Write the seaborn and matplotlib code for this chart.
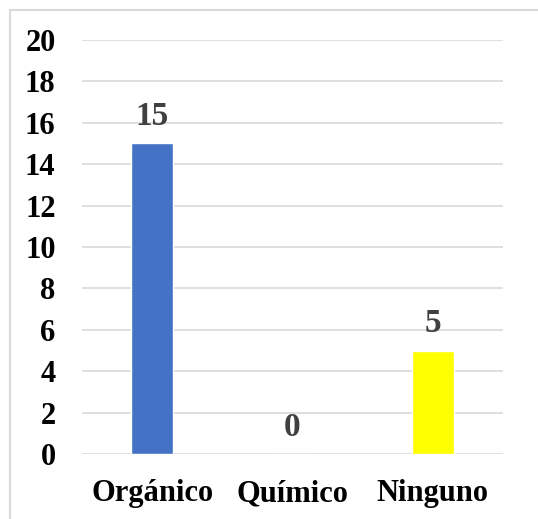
import matplotlib
matplotlib.use("Agg")
import matplotlib.pyplot as plt
from matplotlib.patches import Rectangle
import seaborn as sns
import pandas as pd

categories = ["Orgánico", "Químico", "Ninguno"]
values = [15, 0, 5]
colors = ["#4472C4", "#A5A5A5", "#FFFF00"]
y_ticks = [0, 2, 4, 6, 8, 10, 12, 14, 16, 18, 20]

sns.set_theme(style="white")
plt.rcParams["font.family"] = ["Liberation Serif", "DejaVu Serif"]
plt.rcParams["font.weight"] = "bold"

W, H = 538, 519
fig = plt.figure(figsize=(W / 100, H / 100), dpi=100)
ax = fig.add_axes([82 / W, 1 - 454 / H, (503 - 82) / W, (454 - 40) / H])

df = pd.DataFrame({"cat": categories, "val": values})
sns.barplot(data=df, x="cat", y="val", hue="cat", palette=colors,
            width=0.295, legend=False, ax=ax, saturation=1)

ax.set_ylim(0, 20)
ax.set_xlim(-0.5, 2.5)
ax.set_yticks(y_ticks)
ax.set_yticklabels([str(t) for t in y_ticks])
ax.grid(axis="y", color="#D9D9D9", linewidth=1.2)
ax.set_axisbelow(True)
for s in ax.spines.values():
    s.set_visible(False)
ax.set_xlabel("")
ax.set_ylabel("")
ax.tick_params(axis="y", length=0, pad=19, labelsize=22, labelcolor="black")
ax.tick_params(axis="x", length=0, pad=18, labelsize=22, labelcolor="black")
for lab in ax.get_xticklabels() + ax.get_yticklabels():
    lab.set_fontweight("bold")

for i, v in enumerate(values):
    ax.annotate(str(v), (i, v), xytext=(0, 8), textcoords="offset points",
                ha="center", va="bottom", fontsize=24, fontweight="bold",
                color="#404040")

# chart frame
fig.patches.append(Rectangle((10 / W, -0.1), 1.2, 1 - 10 / H + 0.1,
                             transform=fig.transFigure, fill=False,
                             edgecolor="#D9D9D9", linewidth=1.5))

fig.savefig("out.png", dpi=100)
